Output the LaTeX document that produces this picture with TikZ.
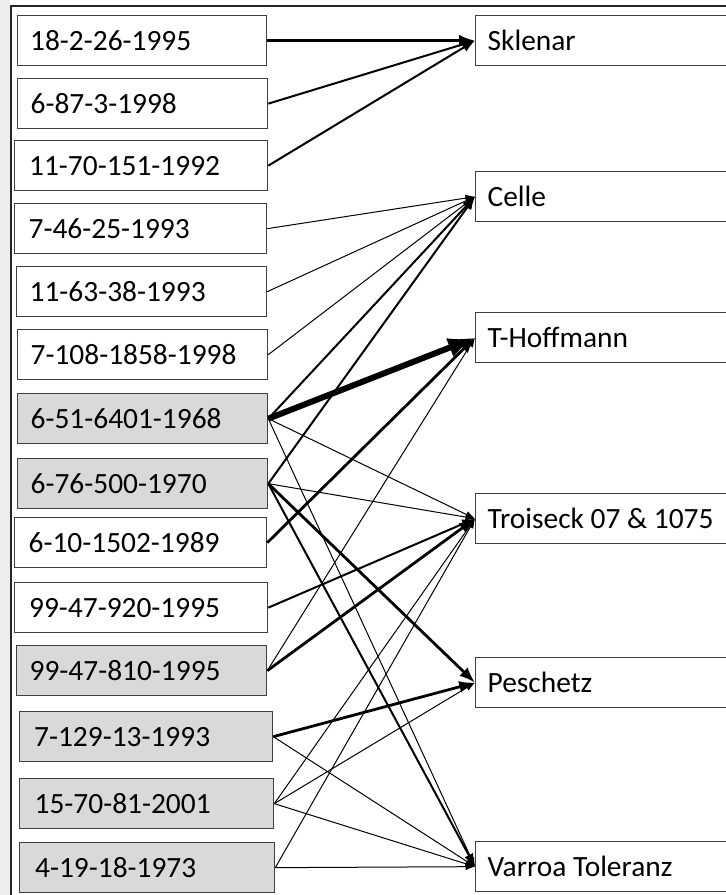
\documentclass[tikz,border=0pt]{standalone}
\usepackage{fontspec}
\setmainfont{Carlito}
\usetikzlibrary{arrows.meta}
\tikzset{
	box/.style = {draw=black!75, line width=0.65pt, rectangle, anchor=north west,
		minimum height=25pt, inner xsep=6pt, align=flush left,
		font=\fontsize{14.7}{17}\selectfont},
	%,
	queen/.style = {box, fill=white, text width=112pt, minimum width=#1},
	queen/.default = 125pt,
	graybox/.style = {queen=#1, fill=black!15},
	graybox/.default = 125pt,
	strain/.style = {box, fill=white, text width=118pt, minimum width=130pt},
	w1/.style = {->, line width=0.5pt},
	w2/.style = {->, line width=1pt},
	w3/.style = {->, line width=1.4pt},
	w4/.style = {->, line width=3pt}
}
\begin{document}
\begin{tikzpicture}[x=0.5pt, y=-0.5pt, >={Latex[length=3pt 3.5]}]
    \useasboundingbox (0,0) rectangle (726,895);
    % screen edge and frame
    \fill [black!7] (0,0) rectangle (10,895);
    \draw [line width=0.8pt, black!85] (11,895) -- (11,6) -- (726,6);

    % We start by placing the lines on the left
    \node [queen=124.5pt] (q1) at (17,15) {18-2-26-1995};
    \node [queen] (q2) at (17,78) {6-87-3-1998};
    \node [queen=126.5pt] (q3) at (14,140) {11-70-151-1992};
    \node [queen=126pt] (q4) at (14,203) {7-46-25-1993};
    \node [queen] (q5) at (16,266) {11-63-38-1993};
    \node [queen] (q6) at (17,329) {7-108-1858-1998};
    \node [graybox] (q7) at (17,393) {6-51-6401-1968};
    \node [graybox] (q8) at (17,458) {6-76-500-1970};
    \node [queen=126pt] (q9) at (14,517) {6-10-1502-1989};
    \node [queen=126.5pt] (q10) at (14,582) {99-47-920-1995};
    \node [graybox] (q11) at (16,645) {99-47-810-1995};
    \node [graybox=126.5pt] (q12) at (19,711) {7-129-13-1993};
    \node [graybox=127pt] (q13) at (19,778) {15-70-81-2001};
    \node [graybox=127.5pt] (q14) at (19,842) {4-19-18-1973};

    % the strains on the right
    \node [strain] (skl) at (475,15) {Sklenar};
    \node [strain] (cel) at (475,171) {Celle};
    \node [strain] (hof) at (475,312) {T-Hoffmann};
    \node [strain] (tro) at (475,493) {Troiseck 07 \& 1075};
    \node [strain] (pes) at (475,657) {Peschetz};
    \node [strain] (var) at (475,841) {Varroa Toleranz};

    % Once the nodes are placed, connecting them is easy.
    \draw [w3] (q1.east) -- (skl.west);
    \draw [w2] (q2.east) -- (skl.west);
    \draw [w2] (q3.east) -- (skl.west);
    \draw [w1] (q4.east) -- (cel.west);
    \draw [w1] (q5.east) -- (cel.west);
    \draw [w1] (q6.east) -- (cel.west);
    \draw [w2] (q7.east) -- (cel.west);
    \draw [w2] (q8.east) -- (cel.west);
    \draw [w4] (q7.east) -- (hof.west);
    \draw [w3] (q9.east) -- (hof.west);
    \draw [w1] (q11.east) -- (hof.west);
    \draw [w1] (q7.east) -- (tro.west);
    \draw [w1] (q8.east) -- (tro.west);
    \draw [w2] (q10.east) -- (tro.west);
    \draw [w3] (q11.east) -- (tro.west);
    \draw [w1] (q13.east) -- (tro.west);
    \draw [w1] (q14.east) -- (tro.west);
    \draw [w3] (q8.east) -- (pes.west);
    \draw [w3] (q12.east) -- (pes.west);
    \draw [w1] (q13.east) -- (pes.west);
    \draw [w1] (q7.east) -- (var.west);
    \draw [w2] (q8.east) -- (var.west);
    \draw [w1] (q12.east) -- (var.west);
    \draw [w1] (q13.east) -- (var.west);
    \draw [w1] (q14.east) -- (var.west);
\end{tikzpicture}
\end{document}
